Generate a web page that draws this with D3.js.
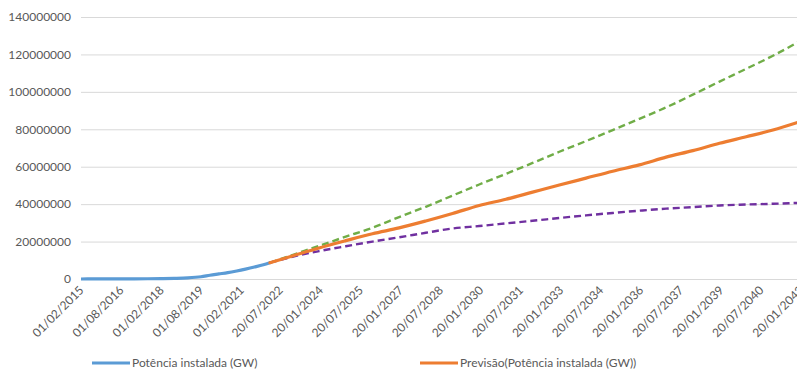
<!DOCTYPE html>
<html>
<head>
<meta charset="utf-8">
<script src="https://cdn.jsdelivr.net/npm/d3@7"></script>
<style>
  body { margin: 0; background: #fff; }
  svg { display: block; }
  text { font-family: Lato, "Liberation Sans", sans-serif; fill: #595959; }
</style>
</head>
<body>
<svg id="chart" width="797" height="371"></svg>
<script>
// Y axis ticks
const yTicks = [0, 20000000, 40000000, 60000000, 80000000, 100000000, 120000000, 140000000];

// X axis tick labels (dd/mm/yyyy)
const xTickLabels = [
  "01/02/2015", "01/08/2016", "01/02/2018", "01/08/2019", "01/02/2021",
  "20/07/2022", "20/01/2024", "20/07/2025", "20/01/2027", "20/07/2028",
  "20/01/2030", "20/07/2031", "20/01/2033", "20/07/2034", "20/01/2036",
  "20/07/2037", "20/01/2039", "20/07/2040", "20/01/2042"
];

// Installed capacity (measured)
const actualDates = [
  "2015-02", "2015-08", "2016-02", "2016-08", "2017-02", "2017-08", "2018-02",
  "2018-08", "2019-02", "2019-08", "2019-12", "2020-04", "2020-08", "2020-12",
  "2021-04", "2021-08", "2021-12", "2022-03"
];
const actualValues = [
  10000, 20000, 30000, 50000, 80000, 130000, 220000,
  350000, 600000, 1200000, 2000000, 2700000, 3400000, 4300000,
  5300000, 6400000, 7600000, 8700000
];

// Forecast and its upper / lower confidence bounds
const forecastDates = [
  "2022-03", "2023-01", "2024-01", "2025-01", "2026-01", "2027-01", "2028-01",
  "2029-01", "2030-01", "2031-01", "2032-01", "2033-01", "2034-01", "2035-01",
  "2036-01", "2037-01", "2038-01", "2039-01", "2040-01", "2041-01", "2042-01"
];
const forecastValues = [
  8700000, 12300000, 16600000, 20500000, 24200000, 27300000, 31000000,
  35000000, 39300000, 42600000, 46400000, 50200000, 53900000, 57600000,
  61000000, 65100000, 68600000, 72500000, 76000000, 79600000, 84000000
];
const upperValues = [
  8700000, 12800000, 17700000, 22600000, 27400000, 33100000, 38600000,
  44600000, 50500000, 56200000, 62000000, 68000000, 73700000, 79600000,
  85600000, 91700000, 98500000, 105500000, 112300000, 119300000, 127000000
];
const lowerValues = [
  8700000, 11900000, 14900000, 17500000, 20000000, 22300000, 24700000,
  27000000, 28300000, 29700000, 31100000, 32600000, 34000000, 35300000,
  36500000, 37600000, 38400000, 39300000, 39800000, 40200000, 40700000
];

const seriesNames = ["Potência instalada (GW)", "Previsão(Potência instalada (GW))"];
const colors = { actual: "#5B9BD5", forecast: "#ED7D31", upper: "#70AD47", lower: "#7030A0" };

const svg = d3.select("#chart");
const W = 797, H = 371;
const plot = { left: 81, right: 801, top: 17, bottom: 279 };

const parseTick = d3.timeParse("%d/%m/%Y");
const parseMonth = d3.timeParse("%Y-%m");

const x = d3.scaleTime()
  .domain([parseTick(xTickLabels[0]), parseTick(xTickLabels[xTickLabels.length - 1])])
  .range([plot.left, plot.right]);
const y = d3.scaleLinear().domain([0, 140000000]).range([plot.bottom, plot.top]);

svg.append("rect").attr("width", W).attr("height", H).attr("fill", "#fff");

// Horizontal gridlines + y labels
const yAxis = d3.axisLeft(y).tickValues(yTicks).tickFormat(d3.format("d"))
  .tickSize(-(plot.right - plot.left)).tickPadding(10);
const gy = svg.append("g").attr("transform", `translate(${plot.left},0)`).call(yAxis);
gy.select(".domain").remove();
gy.selectAll(".tick line").attr("stroke", "#d9d9d9").attr("stroke-width", 1);
gy.selectAll(".tick text").attr("font-size", 12).attr("fill", "#595959")
  .style("font-family", "Lato, 'Liberation Sans', sans-serif");

// X axis labels, rotated
const xAxis = d3.axisBottom(x).tickValues(xTickLabels.map(parseTick))
  .tickFormat(d3.timeFormat("%d/%m/%Y")).tickSize(0);
const gx = svg.append("g").attr("transform", `translate(0,${plot.bottom})`).call(xAxis);
gx.select(".domain").remove();
gx.selectAll(".tick text")
  .attr("font-size", 12).attr("fill", "#595959")
  .style("font-family", "Lato, 'Liberation Sans', sans-serif")
  .attr("text-anchor", "end")
  .attr("dy", null).attr("y", 0)
  .attr("transform", "translate(3,12) rotate(-45)");

svg.append("defs").append("clipPath").attr("id", "clip")
  .append("rect").attr("x", plot.left).attr("y", 0).attr("width", plot.right - plot.left).attr("height", plot.bottom + 3);

const line = d3.line().curve(d3.curveMonotoneX);
const lines = svg.append("g").attr("clip-path", "url(#clip)");

function drawSeries(dates, values, color, width, dash) {
  const pts = dates.map((d, i) => [x(parseMonth(d)), y(values[i])]);
  lines.append("path").attr("d", line(pts)).attr("fill", "none")
    .attr("stroke", color).attr("stroke-width", width)
    .attr("stroke-linecap", dash ? "butt" : "round")
    .attr("stroke-dasharray", dash || null);
}

drawSeries(actualDates, actualValues, colors.actual, 3.2, null);
drawSeries(forecastDates, upperValues, colors.upper, 2.4, "7,4");
drawSeries(forecastDates, lowerValues, colors.lower, 2.4, "7,4");
drawSeries(forecastDates, forecastValues, colors.forecast, 3.2, null);

// Legend
const legend = [
  { name: seriesNames[0], color: colors.actual, x: 92 },
  { name: seriesNames[1], color: colors.forecast, x: 420 }
];
const lg = svg.append("g");
legend.forEach(l => {
  lg.append("line").attr("x1", l.x).attr("x2", l.x + 38).attr("y1", 363).attr("y2", 363)
    .attr("stroke", l.color).attr("stroke-width", 3.2);
  lg.append("text").attr("x", l.x + 40).attr("y", 367).attr("font-size", 12)
    .attr("fill", "#595959").text(l.name);
});
</script>
</body>
</html>
